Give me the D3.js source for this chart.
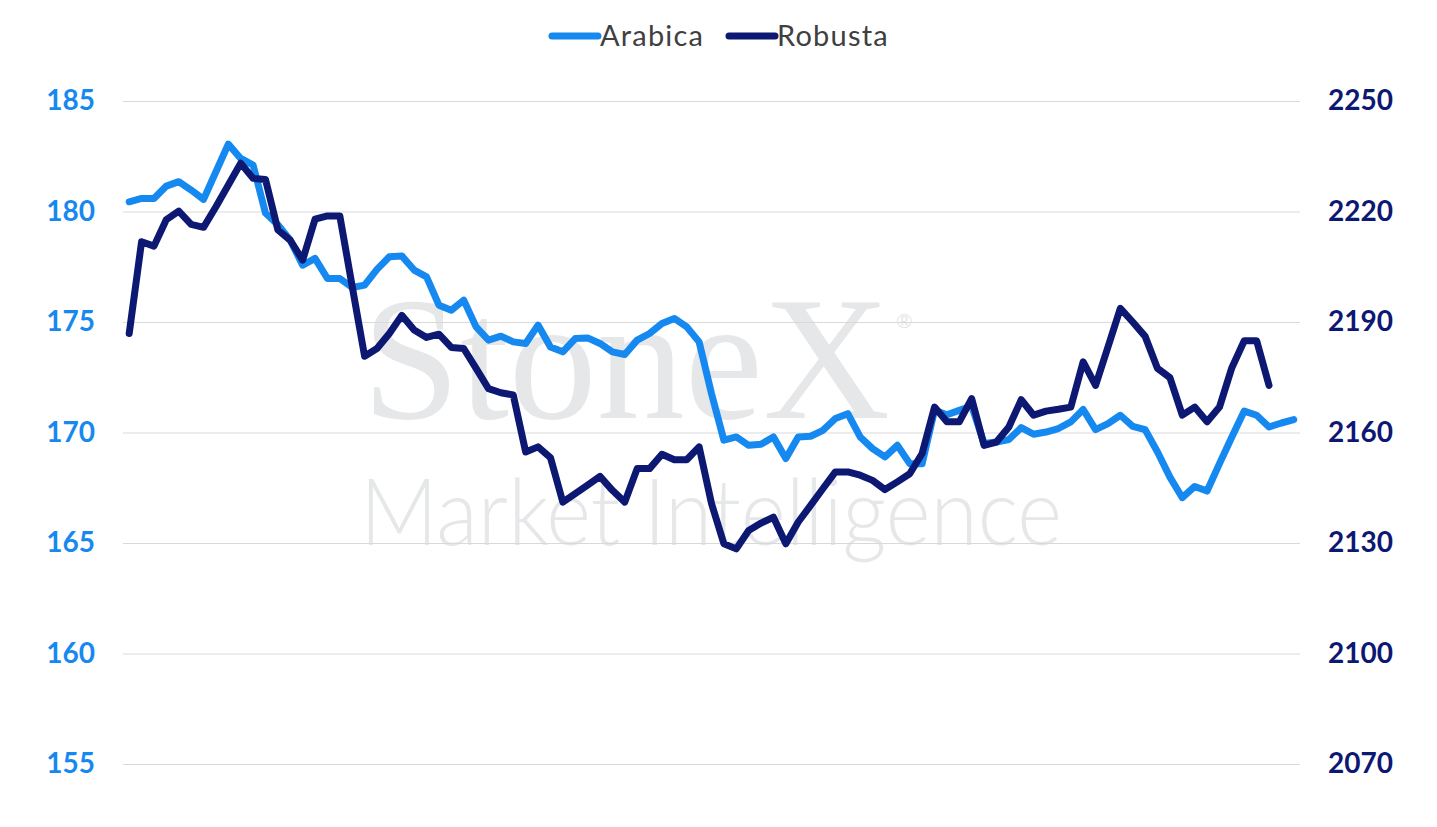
<!DOCTYPE html>
<html lang="en">
<head>
<meta charset="UTF-8" />
<title>Arabica vs Robusta</title>
<style>
body { margin: 0; background: #fff; }
#chart { display: block; }
.tick text { font-family: Lato, "Open Sans", sans-serif; font-weight: 700; font-size: 28px; }
</style>
</head>
<body>
<svg id="chart" width="1437" height="827"></svg>
<script src="https://cdn.jsdelivr.net/npm/d3@7"></script>
<script>
// values
const seriesNames = ['Arabica', 'Robusta'];
const arabica = [180.44,180.59,180.59,181.15,181.35,180.97,180.55,181.8,183.05,182.4,
  182.1,179.93,179.4,178.7,177.57,177.88,176.97,176.97,176.56,176.67,
  177.38,177.95,177.99,177.35,177.04,175.76,175.53,175.99,174.78,174.18,
  174.36,174.1,174.03,174.86,173.87,173.65,174.25,174.28,174.03,173.65,
  173.53,174.18,174.48,174.93,175.16,174.78,174.1,171.76,169.65,169.8,
  169.42,169.47,169.8,168.82,169.8,169.83,170.1,170.63,170.85,169.8,
  169.27,168.9,169.42,168.59,168.59,171.0,170.8,171.0,171.2,169.5,
  169.57,169.68,170.22,169.92,170.02,170.18,170.48,171.04,170.13,170.4,
  170.78,170.28,170.13,169.12,167.98,167.05,167.56,167.35,168.59,169.8,
  170.97,170.78,170.25,170.43,170.58];
const robusta = [2186.9,2211.8,2210.6,2217.8,2220.1,2216.5,2215.7,2221.3,2227.2,2233.1,
  2229.0,2228.7,2215.0,2212.2,2206.8,2217.9,2218.8,2218.8,2199.7,2180.7,
  2182.8,2186.9,2191.8,2187.8,2185.8,2186.7,2183.1,2182.8,2177.4,2171.9,
  2170.8,2170.2,2154.7,2156.1,2153.2,2141.1,2143.4,2145.7,2148.1,2144.3,
  2141.1,2150.2,2150.2,2154.1,2152.6,2152.6,2156.1,2140.7,2129.8,2128.4,
  2133.4,2135.4,2137.0,2129.8,2135.7,2140.2,2144.8,2149.3,2149.3,2148.4,
  2147.0,2144.5,2146.6,2148.8,2154.3,2166.9,2162.9,2162.9,2169.2,2156.5,
  2157.4,2161.5,2168.9,2164.7,2165.8,2166.3,2166.9,2179.2,2172.8,2183.2,
  2193.7,2190.0,2186.1,2177.4,2174.9,2164.7,2166.9,2162.9,2166.9,2177.6,
  2184.9,2184.9,2172.8,null,null];
const leftTicks = [155, 160, 165, 170, 175, 180, 185];
const rightTicks = [2070, 2100, 2130, 2160, 2190, 2220, 2250];

const colArabica = '#1689f0';
const colRobusta = '#0d1873';

const svg = d3.select('#chart');
const margin = { top: 101, right: 137, bottom: 63, left: 123 };
const W = 1437, H = 827;
const width = W - margin.left - margin.right;
const height = H - margin.top - margin.bottom;

const days = arabica.map((d, i) => i);
const x = d3.scalePoint().domain(days).range([0, width]).padding(0.5);
const yL = d3.scaleLinear().domain([155, 185]).range([height, 0]);
const yR = d3.scaleLinear().domain([2070, 2250]).range([height, 0]);

// watermark
const wm = svg.append('g').attr('fill', '#e6e7e9');
wm.append('text').attr('x', 362).attr('y', 418)
  .style('font-family', '"Liberation Serif", "DejaVu Serif", serif')
  .style('font-size', '176px').text('StoneX');
wm.append('text').attr('x', 896).attr('y', 328)
  .style('font-family', 'Lato, sans-serif').style('font-size', '20px').text('®');
wm.append('text').attr('x', 360).attr('y', 545)
  .style('font-family', 'Lato, sans-serif').style('font-weight', 300)
  .style('font-size', '92px').attr('textLength', 702).attr('lengthAdjust', 'spacingAndGlyphs')
  .text('Market Intelligence');

const g = svg.append('g').attr('transform', `translate(${margin.left},${margin.top})`);

// left axis + grid
const axL = g.append('g')
  .call(d3.axisLeft(yL).tickValues(leftTicks).tickSize(-width).tickPadding(28).tickFormat(d3.format('d')));
axL.select('.domain').remove();
axL.selectAll('.tick line').attr('stroke', '#d9d9d9');
axL.selectAll('.tick text').attr('fill', colArabica);

// right axis
const axR = g.append('g').attr('transform', `translate(${width},0)`)
  .call(d3.axisRight(yR).tickValues(rightTicks).tickSize(0).tickPadding(28).tickFormat(d3.format('d')));
axR.select('.domain').remove();
axR.selectAll('.tick text').attr('fill', colRobusta);

const lineL = d3.line().defined(d => d != null).x((d, i) => x(i)).y(d => yL(d));
const lineR = d3.line().defined(d => d != null).x((d, i) => x(i)).y(d => yR(d));

g.append('path').datum(arabica).attr('d', lineL)
  .attr('fill', 'none').attr('stroke', colArabica).attr('stroke-width', 7)
  .attr('stroke-linejoin', 'round').attr('stroke-linecap', 'round');
g.append('path').datum(robusta).attr('d', lineR)
  .attr('fill', 'none').attr('stroke', colRobusta).attr('stroke-width', 7)
  .attr('stroke-linejoin', 'round').attr('stroke-linecap', 'round');

// legend
const legend = svg.append('g').attr('transform', 'translate(552,36)');
const legX = [0, 177];
seriesNames.forEach((name, i) => {
  const item = legend.append('g').attr('transform', `translate(${legX[i]},0)`);
  item.append('line').attr('x1', 0).attr('x2', 46).attr('y1', 0).attr('y2', 0)
    .attr('stroke', i === 0 ? colArabica : colRobusta).attr('stroke-width', 7)
    .attr('stroke-linecap', 'round');
  item.append('text').attr('x', 48).attr('y', 10)
    .style('font-family', 'Lato, "Open Sans", sans-serif').style('font-size', '29px')
    .style('letter-spacing', '1.2px')
    .attr('fill', '#404040').text(name);
});
</script>
</body>
</html>
